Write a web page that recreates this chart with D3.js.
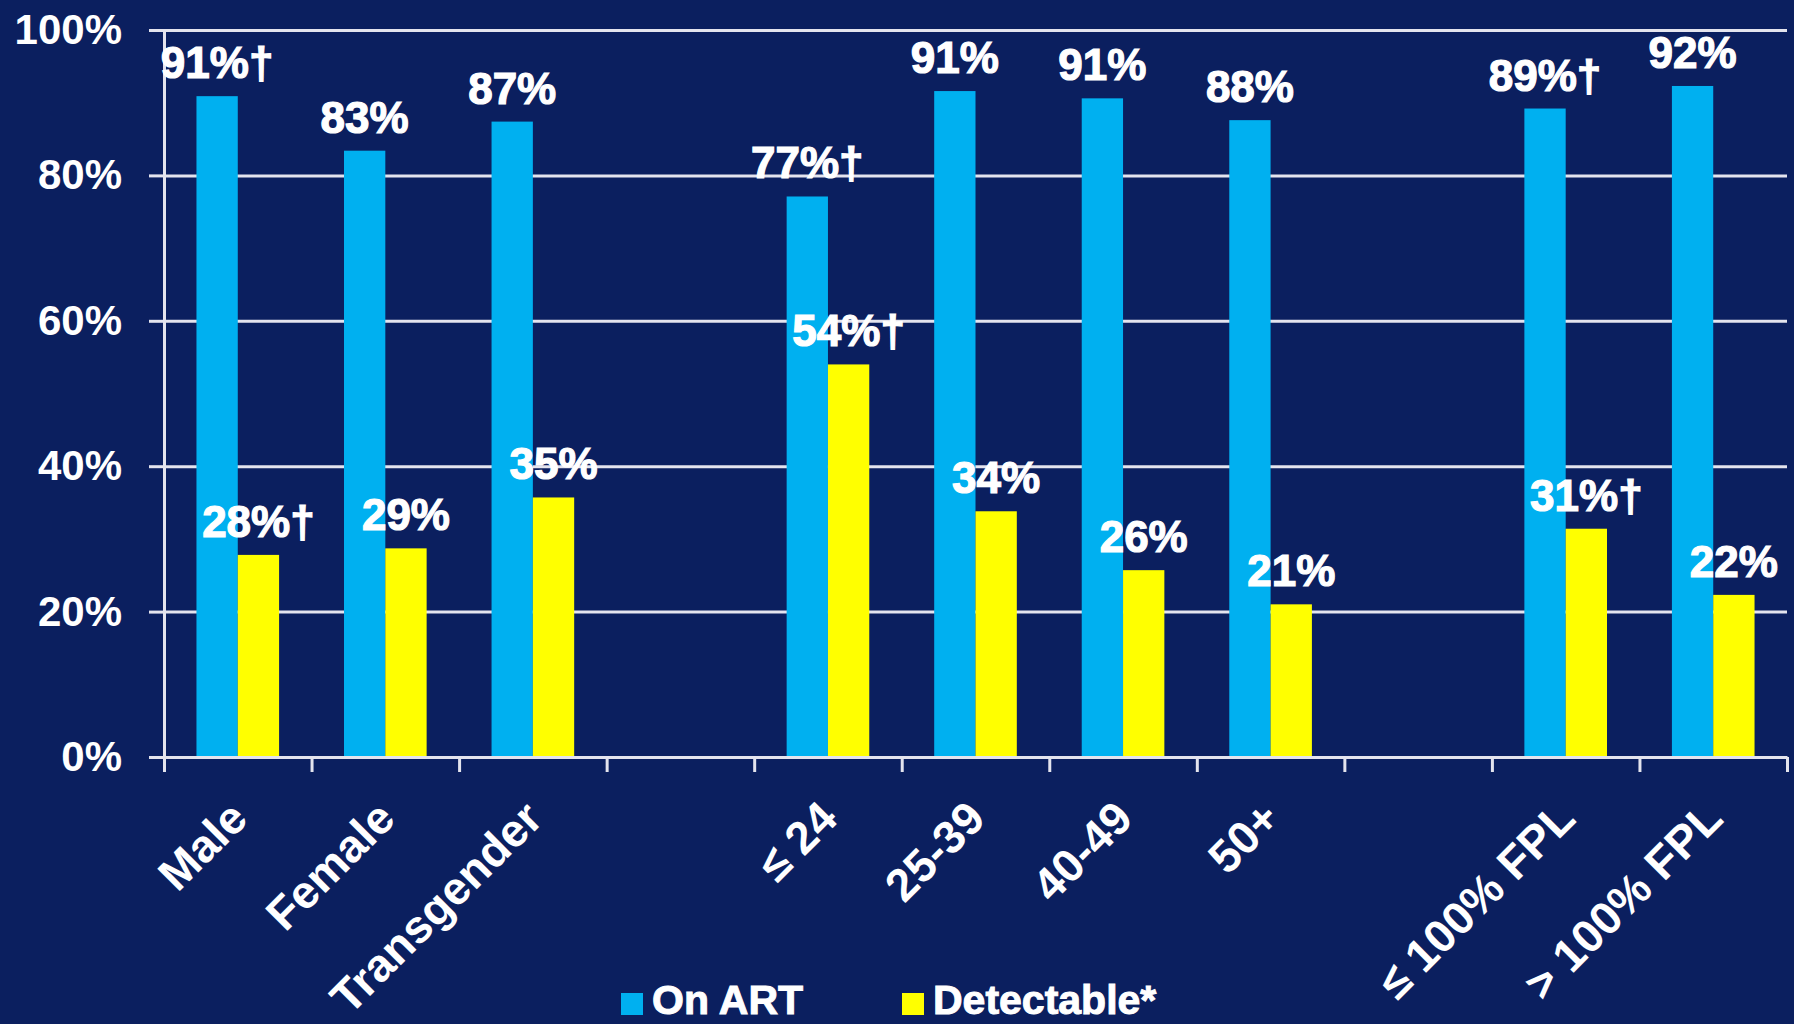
<!DOCTYPE html>
<html>
<head>
<meta charset="utf-8">
<script src="https://cdn.jsdelivr.net/npm/d3@7"></script>
<style>
  html, body { margin: 0; padding: 0; background: #0b1f5f; }
  svg { display: block; font-family: "Liberation Sans", Arial, sans-serif; }
</style>
</head>
<body>
<svg id="chart" width="1794" height="1024"></svg>
<script>
// categories (blank entries are the gaps between groups)
const categories = ['Male', 'Female', 'Transgender', '', '\u2264 24', '25-39', '40-49', '50+', '', '\u2264 100% FPL', '> 100% FPL'];
const onArt = [90.9, 83.4, 87.4, null, 77.1, 91.6, 90.6, 87.6, null, 89.2, 92.3];
const detectable = [27.8, 28.7, 35.7, null, 54.0, 33.8, 25.7, 21.0, null, 31.4, 22.3];
const onArtLabels = ['91%\u2020', '83%', '87%', '', '77%\u2020', '91%', '91%', '88%', '', '89%\u2020', '92%'];
const detectableLabels = ['28%\u2020', '29%', '35%', '', '54%\u2020', '34%', '26%', '21%', '', '31%\u2020', '22%'];
const yTicks = [0, 20, 40, 60, 80, 100];
const seriesNames = ['On ART', 'Detectable*'];
const seriesColors = ['#00b0f0', '#ffff00'];

const svg = d3.select('#chart');
const margin = {top: 30, right: 7, bottom: 267, left: 164};
const width = 1794 - margin.left - margin.right;
const height = 1024 - margin.top - margin.bottom;

const g = svg.append('g')
    .attr('transform', 'translate(' + margin.left + ',' + margin.top + ')');

let x0 = d3.scaleBand()
    .domain(d3.range(categories.length))
    .range([0, width]);
let pad = x0.bandwidth() * 0.22;
let x1 = d3.scaleBand()
    .domain([0, 1])
    .range([pad, x0.bandwidth() - pad]);
let y = d3.scaleLinear()
    .domain([0, 100])
    .range([height, 0]);

// gridlines, behind the bars
g.append('g')
    .attr('class', 'grid')
    .call(d3.axisLeft(y).tickValues(yTicks.slice(1)).tickSize(-width).tickFormat(''))
    .call(s => s.select('.domain').remove())
    .selectAll('line')
    .attr('stroke', '#e4e4ee')
    .attr('stroke-width', 3);

// y axis with outward stubs and labels
g.append('g')
    .call(d3.axisLeft(y).tickValues(yTicks).tickSize(15).tickPadding(27).tickFormat(d => d + '%'))
    .call(s => s.select('.domain').attr('stroke', '#e4e4ee').attr('stroke-width', 3))
    .call(s => s.selectAll('line').attr('stroke', '#e4e4ee').attr('stroke-width', 3))
    .selectAll('text')
    .attr('fill', '#ffffff')
    .attr('font-size', 42)
    .attr('font-weight', 'bold');

// bars
const seriesData = [onArt, detectable];
const seriesLabels = [onArtLabels, detectableLabels];
seriesData.forEach(function(values, si) {
    let rows = values.map((v, i) => ({i: i, v: v, label: seriesLabels[si][i]}))
        .filter(d => d.v !== null);
    g.append('g')
        .selectAll('rect')
        .data(rows)
        .enter().append('rect')
        .attr('x', d => x0(d.i) + x1(si))
        .attr('y', d => y(d.v))
        .attr('width', x1.bandwidth())
        .attr('height', d => height - y(d.v))
        .attr('fill', seriesColors[si]);
});

// value labels, drawn after both series so they sit on top
seriesData.forEach(function(values, si) {
    let rows = values.map((v, i) => ({i: i, v: v, label: seriesLabels[si][i]}))
        .filter(d => d.v !== null);
    g.append('g')
        .selectAll('text')
        .data(rows)
        .enter().append('text')
        .attr('x', d => x0(d.i) + x1(si) + x1.bandwidth() / 2)
        .attr('y', d => y(d.v) - 18)
        .attr('text-anchor', 'middle')
        .attr('fill', '#ffffff')
        .attr('stroke', '#ffffff')
        .attr('stroke-width', 1.2)
        .attr('font-size', 44)
        .attr('font-weight', 'bold')
        .text(d => d.label);
});

// x axis: baseline with ticks at category boundaries
let xEdges = d3.scaleLinear().domain([0, categories.length]).range([0, width]);
g.append('g')
    .attr('transform', 'translate(0,' + height + ')')
    .call(d3.axisBottom(xEdges).tickValues(d3.range(categories.length + 1)).tickSize(15).tickSizeOuter(0).tickFormat(''))
    .call(s => s.select('.domain').attr('stroke', '#e4e4ee').attr('stroke-width', 3))
    .selectAll('line')
    .attr('stroke', '#e4e4ee')
    .attr('stroke-width', 3);

// rotated category labels
g.append('g')
    .attr('transform', 'translate(0,' + height + ')')
    .call(d3.axisBottom(x0).tickSize(0).tickFormat(i => categories[i]))
    .call(s => s.select('.domain').remove())
    .selectAll('text')
    .attr('x', 0)
    .attr('y', 0)
    .attr('dy', 0)
    .attr('transform', 'translate(12,64) rotate(-45)')
    .attr('text-anchor', 'end')
    .attr('fill', '#ffffff')
    .attr('font-size', 46)
    .attr('font-weight', 'bold');

// legend
const legendX = [621, 902];
const legend = svg.append('g');
seriesNames.forEach(function(name, si) {
    legend.append('rect')
        .attr('x', legendX[si])
        .attr('y', 993)
        .attr('width', 22)
        .attr('height', 22)
        .attr('fill', seriesColors[si]);
    legend.append('text')
        .attr('x', legendX[si] + 31)
        .attr('y', 1014)
        .attr('fill', '#ffffff')
        .attr('stroke', '#ffffff')
        .attr('stroke-width', 1)
        .attr('font-size', 41)
        .attr('font-weight', 'bold')
        .text(name);
});
</script>
</body>
</html>
